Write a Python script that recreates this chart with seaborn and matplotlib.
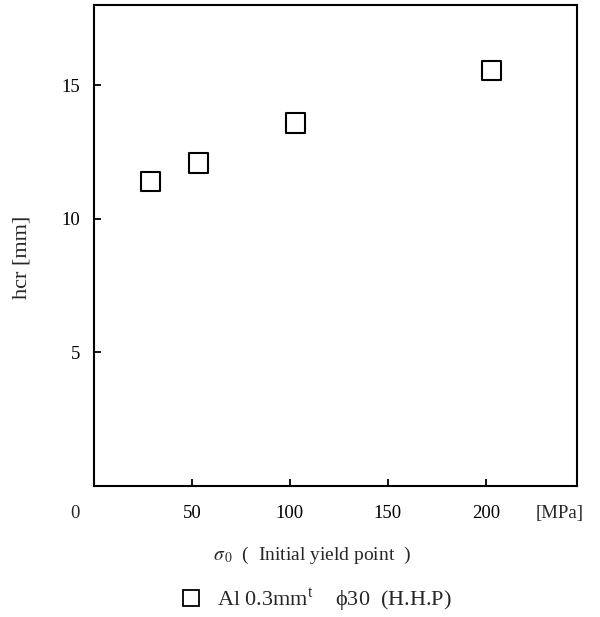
import matplotlib
matplotlib.use("Agg")
import matplotlib.pyplot as plt
import seaborn as sns
import pandas as pd
from matplotlib.lines import Line2D

sigma0 = [29, 53.5, 103, 203]
hcr = [11.4, 12.08, 13.58, 15.56]
xticks = [50, 100, 150, 200]
yticks = [5, 10, 15]
series_label = "Al 0.3mm$^{\\mathregular{t}}$    \u03d530  (H.H.P)"

sns.set_theme(style="white")
plt.rcParams['font.family'] = ['Liberation Serif', 'DejaVu Serif']
plt.rcParams['mathtext.fontset'] = 'stix'

df = pd.DataFrame({"sigma0": sigma0, "hcr": hcr})

fig = plt.figure(figsize=(6.0, 6.17), dpi=100)
ax = fig.add_axes([0.1567, 0.2131, 0.805, 0.7788])
sns.scatterplot(data=df, x="sigma0", y="hcr", marker="s", s=190,
                facecolors="none", edgecolor="black", linewidth=1.5, ax=ax)

ax.set_xlim(0, 246.5)
ax.set_ylim(0, 18)
ax.set_xticks(xticks)
ax.set_yticks(yticks)
ax.tick_params(direction="in", length=5, width=1.3, colors="black",
               labelsize=13.5, bottom=True, left=True, top=False, right=False)
ax.tick_params(axis="x", pad=14)
ax.tick_params(axis="y", pad=10)
for s in ax.spines.values():
    s.set_color("black")
    s.set_linewidth(1.5)

ax.set_xlabel("")
ax.set_ylabel("")
fig.text(0.037, 1 - 257 / 617, "hcr [mm]", rotation=90, ha="center", va="center", fontsize=16)
ax.text(-0.04, -0.04, "0", transform=ax.transAxes, ha="center", va="top", fontsize=13.5)
ax.text(0.965, -0.04, "[MPa]", transform=ax.transAxes, ha="center", va="top", fontsize=13.5)
fig.text(0.52, 1 - 555 / 617, "$\\sigma_{\\,0}$  (  Initial yield point  )", ha="center", va="center", fontsize=14)

handle = Line2D([], [], marker="s", linestyle="none", markersize=12,
                markerfacecolor="none", markeredgecolor="black", markeredgewidth=1.3)
fig.legend([handle], [series_label], loc="center", bbox_to_anchor=(0.517, 1 - 600 / 617),
           frameon=False, fontsize=16, handletextpad=0.2)

fig.savefig("out.png", dpi=100)
